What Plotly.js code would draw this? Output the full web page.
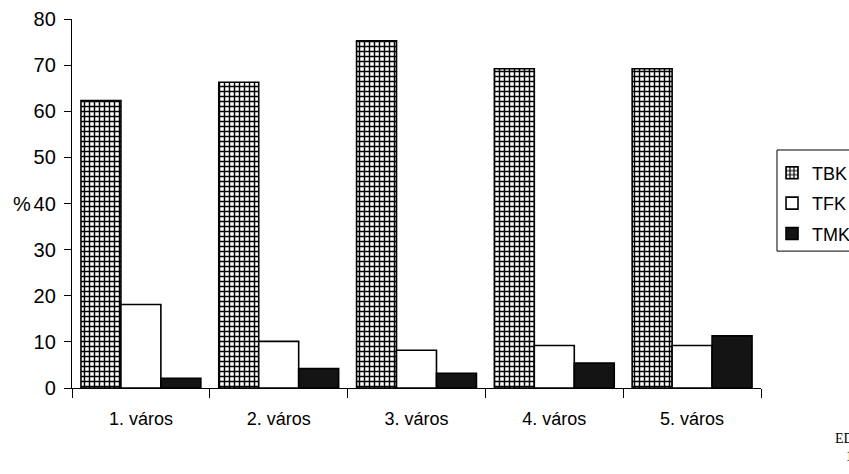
<!DOCTYPE html>
<html>
<head>
<meta charset="utf-8">
<script src="https://cdn.plot.ly/plotly-3.0.1.min.js"></script>
<style>html,body{margin:0;padding:0;background:#fff;}#chart{width:849px;height:474px;}</style>
</head>
<body>
<div id="chart"></div>
<script>
var categories = ["1. város", "2. város", "3. város", "4. város", "5. város"];
var seriesNames = ["TBK", "TFK", "TMK"];
var tbk = [62.3, 66.3, 75.3, 69.2, 69.2];
var tfk = [18.1, 10.1, 8.2, 9.2, 9.2];
var tmk = [2.1, 4.2, 3.2, 5.4, 11.3];
var yTicks = [0, 10, 20, 30, 40, 50, 60, 70, 80];

var font = "Liberation Sans, Arial, sans-serif";
var lineStyle = {color: "#000", width: 1.6};

var traces = [
  {type: "bar", name: seriesNames[0], x: categories, y: tbk, legendgroup: "a",
   marker: {color: "#fff", line: lineStyle,
            pattern: {shape: "+", fgcolor: "#000", bgcolor: "#fff", size: 5, solidity: 0.5}}},
  {type: "bar", name: seriesNames[1], x: categories, y: tfk, legendgroup: "b",
   marker: {color: "#fff", line: lineStyle}},
  {type: "bar", name: seriesNames[2], x: categories, y: tmk, legendgroup: "c",
   marker: {color: "#141414", line: lineStyle}}
];

var layout = {
  width: 849, height: 474,
  margin: {l: 72, r: 88, t: 19, b: 86, autoexpand: false},
  paper_bgcolor: "#fff", plot_bgcolor: "#fff",
  font: {family: font, size: 18, color: "#000"},
  barmode: "group", bargap: 0.13, bargroupgap: 0,
  showlegend: true,
  legend: {x: 1.016, xanchor: "left", y: 0.5, yanchor: "middle",
           borderwidth: 0, bgcolor: "rgba(0,0,0,0)",
           traceorder: "grouped", tracegroupgap: 4,
           font: {family: font, size: 18, color: "#000"}},
  xaxis: {type: "category", tickson: "boundaries", ticks: "outside", ticklen: 9,
          tickwidth: 1, tickcolor: "#000", showline: true, linecolor: "#000", linewidth: 1,
          showgrid: false, zeroline: false, tickfont: {family: font, size: 18},
          ticklabelstandoff: 14, fixedrange: true},
  yaxis: {range: [0, 80], tickvals: yTicks, ticks: "outside", ticklen: 7, tickwidth: 1,
          tickcolor: "#000", showline: true, linecolor: "#000", linewidth: 1.2,
          showgrid: false, zeroline: false, tickfont: {family: font, size: 20},
          ticklabelstandoff: 4, fixedrange: true},
  yaxis2: {overlaying: "y", range: [0, 80], tickvals: yTicks, ticks: "inside", ticklen: 7,
           tickwidth: 1, tickcolor: "#000", showticklabels: false, showline: false,
           showgrid: false, zeroline: false, side: "left", fixedrange: true},
  shapes: [
    {type: "rect", xref: "paper", yref: "paper", x0: 1.0232, x1: 1.15, y0: 0.371, y1: 0.645,
     line: {color: "#000", width: 1}, fillcolor: "rgba(0,0,0,0)", layer: "below"}
  ],
  annotations: [
    {text: "%", xref: "paper", yref: "y", x: -0.072, y: 40, xanchor: "center", yanchor: "middle",
     showarrow: false, font: {family: font, size: 20, color: "#000"}},
    {text: "EDU<br>1", xref: "paper", yref: "paper", x: 1.1045, y: -0.16,
     xanchor: "left", yanchor: "middle", showarrow: false, align: "center",
     font: {family: "Liberation Serif, serif", size: 14, color: "#000"}}
  ]
};

Plotly.newPlot("chart", traces, layout, {displayModeBar: false, staticPlot: true});
</script>
</body>
</html>
